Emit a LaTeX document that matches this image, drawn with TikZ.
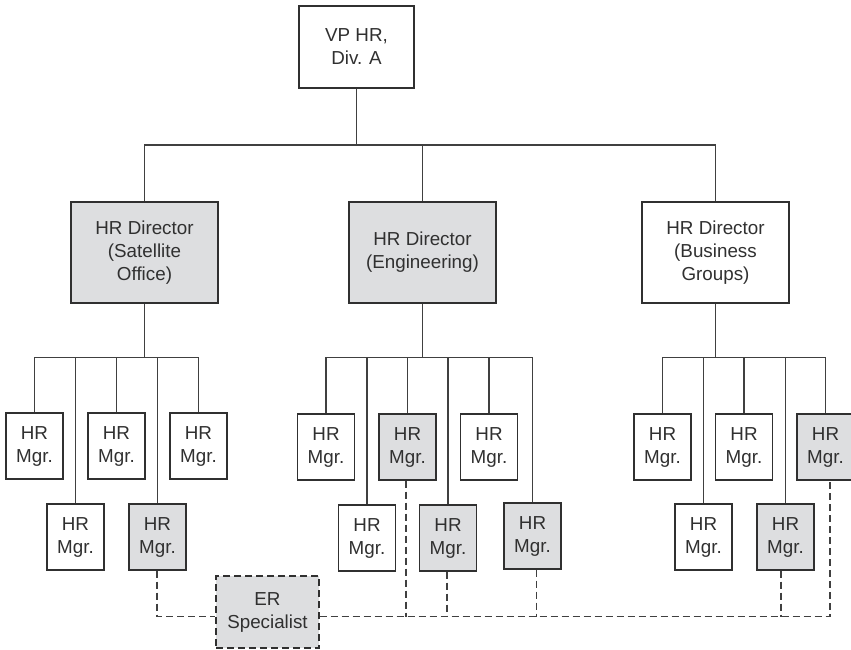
\documentclass[tikz,border=0pt]{standalone}
\usepackage{fontspec}
\setmainfont{Liberation Sans}
\definecolor{ink}{RGB}{48,48,48}
\definecolor{wire}{RGB}{64,64,64}
\definecolor{shade}{RGB}{221,222,224}
\begin{document}
\begin{tikzpicture}[x=1pt,y=-1pt,
  box/.style={draw=ink, line width=1.3pt, fill=white, text=ink, align=center,
    inner sep=0pt, font=\fontsize{18.8}{23}\selectfont},
  shaded/.style={fill=shade},
  dirbox/.style={box, minimum width=147pt, minimum height=101pt},
  mgrbox/.style={box, minimum width=57pt, minimum height=66pt},
  link/.style={draw=wire, line width=1.1pt},
  erlink/.style={draw=wire, line width=1.1pt, dash pattern=on 7pt off 4pt}
]
\clip (0,0) rectangle (851,650);
\fill[white] (0,0) rectangle (851,650);

% top of the hierarchy
\node[box, minimum width=115pt, minimum height=82pt] (vp) at (356.5,47) {VP HR,\\Div. A};
\node[dirbox, shaded] (d1) at (144.5,252.5) {HR Director\\(Satellite\\Office)};
\node[dirbox, shaded] (d2) at (422.5,252.5) {HR Director\\(Engineering)};
\node[dirbox] (d3) at (715.5,252.5) {HR Director\\(Business\\Groups)};

% bus levels
\coordinate (topbus) at (0,145);
\coordinate (grpbus) at (0,357.5);
\coordinate (erbus) at (0,616.5);

\draw[link] (vp.south) -- (vp.south |- topbus);
\draw[link] (d1.north) -- (d1.north |- topbus) -- (d3.north |- topbus) -- (d3.north);
\draw[link] (d2.north) -- (d2.north |- topbus);

% managers: satellite office
\node[mgrbox] (a1) at (34.5,446) {HR\\Mgr.};
\node[mgrbox] (a2) at (75.5,537) {HR\\Mgr.};
\node[mgrbox] (a3) at (116.5,446) {HR\\Mgr.};
\node[mgrbox, shaded] (a4) at (157.5,537) {HR\\Mgr.};
\node[mgrbox] (a5) at (198.5,446) {HR\\Mgr.};

% managers: engineering
\node[mgrbox] (b1) at (326,447) {HR\\Mgr.};
\node[mgrbox] (b2) at (367,538) {HR\\Mgr.};
\node[mgrbox, shaded] (b3) at (407.5,447) {HR\\Mgr.};
\node[mgrbox, shaded] (b4) at (448,538) {HR\\Mgr.};
\node[mgrbox] (b5) at (489,447) {HR\\Mgr.};
\node[mgrbox, shaded] (b6) at (532.5,536) {HR\\Mgr.};

% managers: business groups
\node[mgrbox] (c1) at (662.5,447) {HR\\Mgr.};
\node[mgrbox] (c2) at (703.5,537) {HR\\Mgr.};
\node[mgrbox] (c3) at (744,447) {HR\\Mgr.};
\node[mgrbox, shaded] (c4) at (785.5,537) {HR\\Mgr.};
\node[mgrbox, shaded] (c5) at (825.5,447) {HR\\Mgr.};

% director-to-manager trees
\draw[link] (d1.south) -- (d1.south |- grpbus);
\draw[link] (a1.north) -- (a1.north |- grpbus) -- (a5.north |- grpbus) -- (a5.north);
\foreach \m in {a2,a3,a4} \draw[link] (\m.north) -- (\m.north |- grpbus);

\draw[link] (d2.south) -- (d2.south |- grpbus);
\draw[link] (b1.north) -- (b1.north |- grpbus) -- (b6.north |- grpbus) -- (b6.north);
\foreach \m in {b2,b3,b4,b5} \draw[link] (\m.north) -- (\m.north |- grpbus);

\draw[link] (d3.south) -- (d3.south |- grpbus);
\draw[link] (c1.north) -- (c1.north |- grpbus) -- (c5.north |- grpbus) -- (c5.north);
\foreach \m in {c2,c3,c4} \draw[link] (\m.north) -- (\m.north |- grpbus);

% employee relations specialist and its dotted-line reports
\node[box, shaded, dash pattern=on 7pt off 4pt, minimum width=103pt, minimum height=72pt]
  (er) at (267.5,612) {ER\\Specialist};

\draw[erlink] ([xshift=-0.5pt]a4.south) -- ([xshift=-0.5pt]a4.south |- erbus) -- (er.west |- erbus);
\draw[erlink] (er.east |- erbus) -- ([xshift=4.5pt]c5.south |- erbus) -- ([xshift=4.5pt]c5.south);
\foreach \m/\s in {b3/-1.5, b4/-1, b6/4, c4/-4.5}
  \draw[erlink] ([xshift=\s pt]\m.south) -- ([xshift=\s pt]\m.south |- erbus);
\end{tikzpicture}
\end{document}
